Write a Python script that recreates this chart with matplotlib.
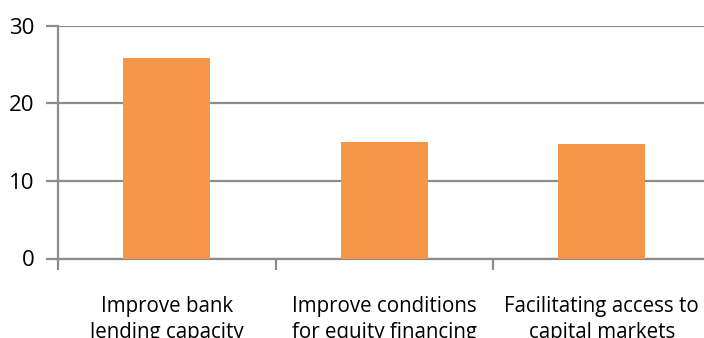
import matplotlib
matplotlib.use("Agg")
import matplotlib.pyplot as plt

# data
categories = ["Improve bank\nlending capacity",
              "Improve conditions\nfor equity financing",
              "Facilitating access to\ncapital markets"]
values = [25.8, 15.0, 14.7]
yticks = [0, 10, 20, 30]

plt.rcParams['font.family'] = ['Open Sans', 'DejaVu Sans']
grid_col = '#8c8c8c'

fig = plt.figure(figsize=(7.04, 3.38), dpi=100)
# axis runs past the right edge of the picture, as in the reference
ax = fig.add_axes([58 / 704, 1 - 258.5 / 338, 652.5 / 704, 233 / 338])

centers = [i + 0.5 for i in range(len(values))]
ax.bar(centers, values, width=0.4, color='#f79646', zorder=3)

ax.set_xlim(0, len(values))
ax.set_ylim(0, 30)
ax.set_yticks(yticks)
ax.yaxis.grid(True, color=grid_col, linewidth=1.6, zorder=0)
ax.set_axisbelow(True)

for s in ['top', 'right']:
    ax.spines[s].set_visible(False)
for s in ['left', 'bottom']:
    ax.spines[s].set_color(grid_col)
    ax.spines[s].set_linewidth(1.6)

ax.tick_params(axis='y', length=9, width=1.6, color=grid_col, labelsize=16, pad=8)
ax.set_xticks(range(len(values) + 1))
ax.set_xticklabels([])
ax.tick_params(axis='x', which='major', length=8, width=1.6, color=grid_col)
ax.set_xticks(centers, minor=True)
ax.set_xticklabels(categories, minor=True, fontsize=14.8, linespacing=1.3)
ax.tick_params(axis='x', which='minor', length=0, pad=27)

fig.savefig("out.png", dpi=100)
